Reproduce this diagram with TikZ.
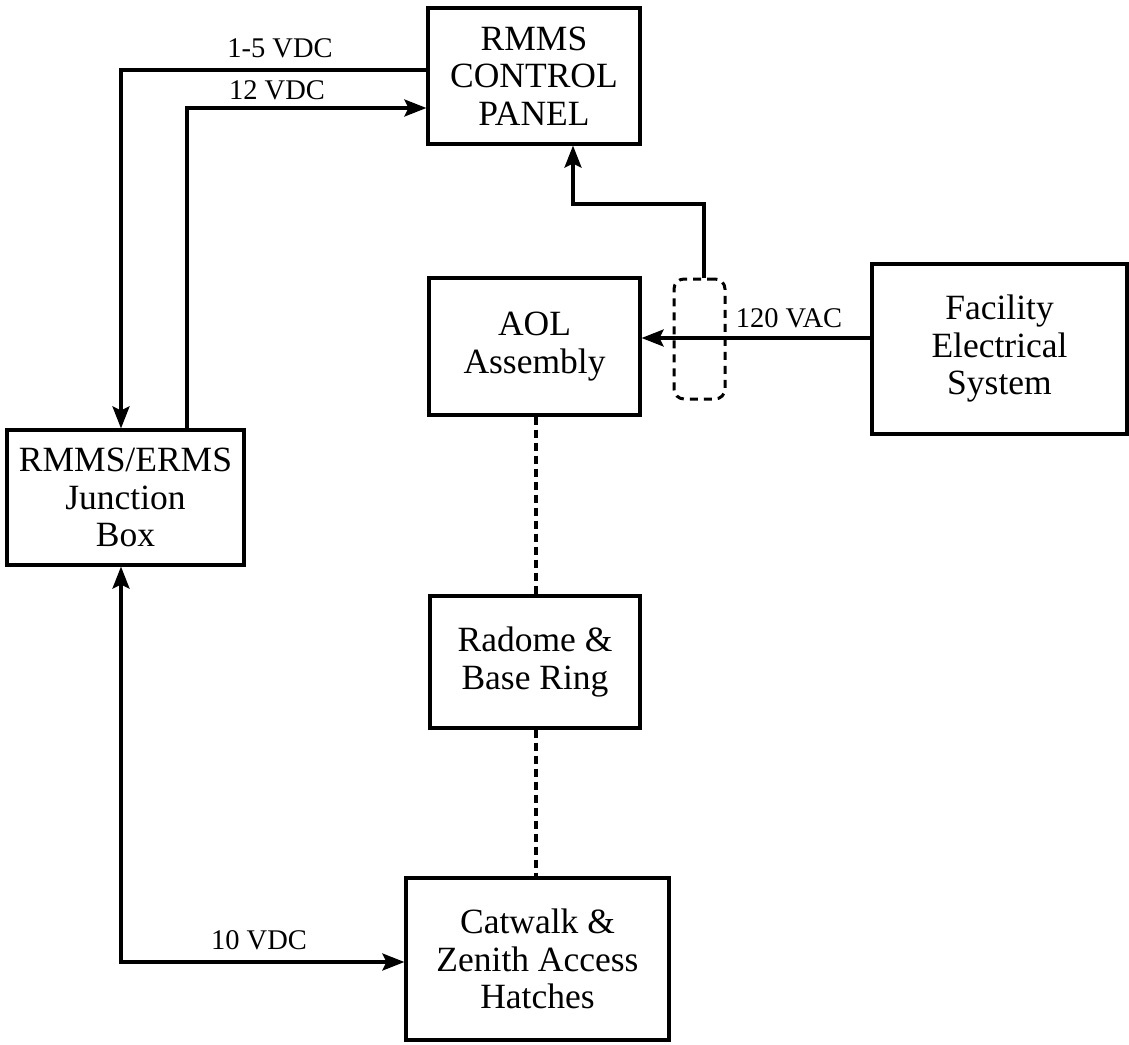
\documentclass[tikz,border=0pt]{standalone}
\usepackage{fontspec}
\setmainfont{Liberation Serif}
\usetikzlibrary{arrows.meta}
\begin{document}
\begin{tikzpicture}[x=1pt,y=-1pt,
  >={Stealth[length=22pt,width=17pt,inset=4pt]},
  box/.style={draw, line width=3.2pt, inner sep=0pt, align=center, font=\fontsize{35.5}{37.5}\selectfont},
  lbl/.style={inner sep=0pt, font=\fontsize{28.5}{30}\selectfont},
  conn/.style={line width=3.2pt},
  dashline/.style={line width=3.2pt, dash pattern=on 8pt off 5pt},
  cable/.style={draw, line width=3pt, dash pattern=on 8pt off 6pt, rounded corners=10pt, inner sep=0pt}]
\useasboundingbox (0,0) rectangle (1129,1044);
% boxes
\node[box, minimum width=212pt, minimum height=136pt] (cp) at (534,76) {RMMS\\CONTROL\\PANEL};
\node[box, minimum width=211pt, minimum height=137pt] (aol) at (534.5,346.5) {AOL\\Assembly};
\node[box, minimum width=255pt, minimum height=170pt] (fac) at (999.5,349) {Facility\\Electrical\\System};
\node[box, minimum width=237pt, minimum height=135pt] (jb) at (125.5,497.5) {RMMS/ERMS\\Junction\\Box};
\node[box, minimum width=210pt, minimum height=132pt] (rad) at (535,662) {Radome \&\\Base Ring};
\node[box, minimum width=263pt, minimum height=162pt] (cat) at (537.5,959) {Catwalk \&\\Zenith Access\\Hatches};
\node[cable, minimum width=51pt, minimum height=120pt] (cab) at (699.5,339) {};
% helper coordinates
\coordinate (c15) at (121,70);
\coordinate (c12) at (187,108);
\coordinate (c10) at (121,962);
\coordinate (c120) at (0,338);
\coordinate (cfeed) at (704,0);
\coordinate (cbend) at (573,204);
\coordinate (cdash) at (536,0);
% connectors
\draw[conn,->] (cp.west |- c15) -| (c15 |- jb.north);
\draw[conn,->] (c12 |- jb.north) |- (cp.west |- c12);
\draw[conn,<->] (c10 |- jb.south) |- (cat.west |- c10);
\draw[conn,->] (fac.west |- c120) -- (aol.east |- c120);
\draw[conn,->] (cab.north -| cfeed) |- (cbend) -- (cp.south -| cbend);
\draw[dashline] (aol.south -| cdash) -- (rad.north -| cdash);
\draw[dashline] (rad.south -| cdash) -- (cat.north -| cdash);
% labels
\node[lbl] (l15) at (280,48) {1-5 VDC};
\node[lbl] (l12) at (277,90) {12 VDC};
\node[lbl] (l120) at (789,318) {120 VAC};
\node[lbl] (l10) at (259,940) {10 VDC};
\end{tikzpicture}
\end{document}
